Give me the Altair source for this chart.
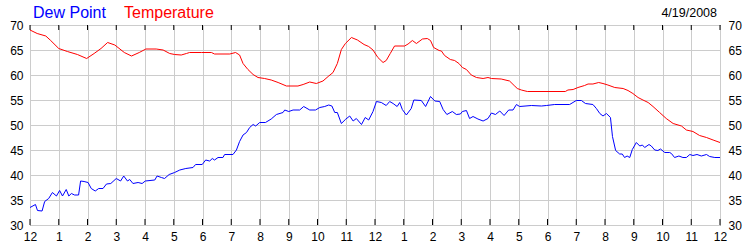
import altair as alt
import pandas as pd

# Temperature (hours since midnight, degrees F)
temp_hours = [0, 0.25, 0.55, 0.72, 1.0, 1.3, 1.65, 1.97, 2.23, 2.47, 2.7, 2.95, 3.28, 3.53, 3.8,
              4.03, 4.39, 4.63, 4.86, 5.03, 5.26, 5.44, 5.55, 5.96, 6.31, 6.42, 6.95, 7.15, 7.29,
              7.41, 7.58, 7.76, 7.93, 8.16, 8.39, 8.63, 8.92, 9.32, 9.50, 9.73, 9.96, 10.19, 10.37,
              10.54, 10.69, 10.83, 10.97, 11.18, 11.39, 11.62, 11.78, 11.93, 12.10, 12.28, 12.39,
              12.53, 12.68, 13.03, 13.15, 13.30, 13.44, 13.65, 13.82, 13.93, 14.04, 14.23, 14.31,
              14.42, 14.62, 14.77, 14.92, 15.04, 15.18, 15.35, 15.53, 15.76, 15.93, 16.05, 16.39,
              16.68, 16.84, 16.95, 17.09, 17.30, 18.62, 18.71, 18.89, 19.06, 19.29, 19.41, 19.58,
              19.78, 19.93, 20.10, 20.34, 20.63, 20.80, 20.97, 21.15, 21.32, 21.50, 21.67, 21.90,
              22.13, 22.37, 22.66, 22.83, 23.06, 23.29, 23.53, 23.76, 24.0]
temp_values = [69.0, 68.3, 67.8, 66.9, 65.3, 64.7, 64.1, 63.3, 64.3, 65.3, 66.5, 66.0, 64.5, 63.8, 64.5,
               65.2, 65.2, 65.0, 64.3, 64.1, 64.0, 64.3, 64.5, 64.5, 64.5, 64.2, 64.2, 64.5, 64.0,
               62.3, 61.1, 60.1, 59.5, 59.3, 59.0, 58.5, 57.8, 57.8, 58.1, 58.6, 58.3, 58.8, 59.7,
               60.5, 62.3, 65.1, 66.3, 67.5, 67.0, 66.1, 65.7, 65.0, 63.5, 62.5, 62.9,
               64.3, 65.8, 65.8, 66.2, 66.9, 66.3, 67.2, 67.3, 66.9, 65.5, 64.9, 64.8,
               63.9, 63.1, 62.9, 62.3, 61.5, 61.1, 60.0, 59.5, 59.3, 59.5, 59.3, 59.2,
               58.8, 57.9, 57.3, 57.0, 56.7, 56.7, 57.0, 57.1, 57.5, 57.9, 58.2, 58.2,
               58.5, 58.3, 58.0, 57.5, 57.3, 56.9, 56.3, 55.5, 55.0, 54.5, 53.7, 52.5,
               51.3, 50.3, 49.8, 49.0, 48.7, 47.9, 47.5, 47.0, 46.5]

# Dew point
dew_hours = [0, 0.19, 0.26, 0.42, 0.51, 0.65, 0.78, 0.92, 1.03, 1.13, 1.26, 1.35, 1.44, 1.55, 1.69,
             1.76, 1.88, 2.02, 2.13, 2.27, 2.39, 2.54, 2.66, 2.81, 3.00, 3.15, 3.26, 3.39, 3.47,
             3.58, 3.76, 3.90, 4.01, 4.34, 4.42, 4.57, 4.68, 4.84, 5.03, 5.21, 5.42, 5.67, 5.76,
             5.99, 6.11, 6.25, 6.34, 6.42, 6.54, 6.71, 6.77, 7.06, 7.18, 7.29, 7.41, 7.53, 7.64,
             7.76, 7.85, 7.99, 8.19, 8.39, 8.57, 8.80, 8.86, 9.00, 9.15, 9.38, 9.52, 9.73, 9.93,
             10.08, 10.25, 10.39, 10.50, 10.60, 10.69, 10.83, 10.97, 11.12, 11.24, 11.35, 11.53,
             11.66, 11.78, 11.93, 12.05, 12.22, 12.39, 12.51, 12.63, 12.77, 12.86, 12.95, 13.09,
             13.26, 13.35, 13.61, 13.76, 13.93, 14.08, 14.25, 14.37, 14.50, 14.69, 14.83, 14.97,
             15.04, 15.18, 15.29, 15.41, 15.58, 15.76, 15.93, 16.05, 16.19, 16.34, 16.49, 16.65,
             16.80, 16.92, 17.03, 17.44, 17.79, 17.96, 18.25, 18.77, 19.00, 19.18, 19.32, 19.58,
             19.70, 19.82, 19.93, 20.05, 20.19, 20.26, 20.37, 20.51, 20.60, 20.68, 20.77, 20.86,
             20.95, 21.09, 21.21, 21.30, 21.38, 21.53, 21.61, 21.73, 21.84, 21.93, 22.08, 22.25,
             22.31, 22.42, 22.57, 22.71, 22.83, 22.95, 23.06, 23.20, 23.35, 23.53, 23.64, 23.82, 24.0]
dew_values = [33.5, 34.1, 32.9, 32.8, 34.7, 35.3, 36.5, 35.8, 36.9, 35.8, 37.1, 35.8, 36.3, 36.0, 36.0,
              38.8, 38.7, 38.5, 37.3, 36.8, 37.3, 37.3, 38.2, 38.3, 39.3, 38.8, 39.8, 38.8, 39.1,
              38.3, 38.5, 38.3, 38.8, 39.0, 39.8, 39.5, 39.3, 40.1, 40.5, 41.0, 41.3, 41.5, 42.1,
              42.1, 43.0, 42.8, 43.3, 43.0, 43.5, 43.5, 44.1, 44.1, 45.0, 46.7, 48.0, 48.5, 49.5,
              50.1, 49.8, 50.5, 50.5, 51.2, 52.1, 52.5, 53.0, 52.7, 53.0, 53.0, 53.7, 53.0, 53.0,
              53.5, 53.7, 54.0, 53.8, 52.5, 52.5, 50.3, 51.1, 51.8, 50.8, 51.3, 50.1,
              51.5, 51.0, 52.7, 54.7, 54.5, 53.9, 54.7, 54.3, 53.7, 54.5, 53.1, 52.0,
              53.3, 55.0, 54.9, 53.7, 55.7, 54.8, 54.7, 53.1, 52.1, 52.7, 52.1, 52.2,
              52.7, 52.9, 51.3, 51.7, 51.2, 50.8, 51.3, 52.4, 52.1, 52.8, 51.9, 53.0,
              53.0, 54.1, 53.7, 53.9, 53.8, 53.9, 54.1, 54.1, 54.9, 54.9, 54.3, 54.1,
              53.3, 52.3, 51.8, 52.3, 51.5, 47.7, 44.9, 44.2, 44.2, 43.5, 43.8, 43.5,
              45.1, 46.5, 45.8, 46.0, 45.5, 46.1, 45.8, 45.0, 44.9, 45.2, 44.5, 44.5,
              44.3, 43.5, 43.8, 43.5, 43.5, 44.1, 43.9, 44.1, 43.8, 44.1, 43.7, 43.5, 43.5]

hour_ticks = list(range(0, 25))
y_ticks = [30, 35, 40, 45, 50, 55, 60, 65, 70]
legend_labels = ["Dew Point", "Temperature"]
date_label = "4/19/2008"

temp_df = pd.DataFrame({"hour": temp_hours, "value": temp_values})
dew_df = pd.DataFrame({"hour": dew_hours, "value": dew_values})
ticks_df = pd.DataFrame({"hour": hour_ticks})

FONT = "Liberation Sans"
xscale = alt.Scale(domain=[0, 24], nice=False, zero=False)
yscale = alt.Scale(domain=[30, 70], nice=False, zero=False)
label_expr = "datum.value % 12 == 0 ? '12' : '' + (datum.value % 12)"

x_axis = alt.Axis(values=hour_ticks, labelExpr=label_expr, title=None, grid=True,
                  gridColor="#cccccc", tickSize=0, labelPadding=6, domain=False,
                  labelFlush=False, labelOverlap=False, labelFont=FONT,
                  labelFontSize=12, labelColor="#000000")
X = alt.X("hour:Q", scale=xscale, axis=x_axis)

temp_line = alt.Chart(temp_df).mark_line(color="#ff0000", strokeWidth=1).encode(
    x=X,
    y=alt.Y("value:Q", scale=yscale,
            axis=alt.Axis(values=y_ticks, title=None, grid=True, gridColor="#cccccc",
                          tickSize=0, labelPadding=7, domain=False, labelFont=FONT,
                          labelFontSize=12, labelColor="#000000", labelFlush=False)),
)

dew_line = alt.Chart(dew_df).mark_line(color="#0000ff", strokeWidth=1).encode(
    x=X,
    y=alt.Y("value:Q", scale=yscale,
            axis=alt.Axis(values=y_ticks, title=None, grid=False, orient="right",
                          tickSize=0, labelPadding=8, domain=False, labelFont=FONT,
                          labelFontSize=12, labelColor="#000000", labelFlush=False)),
)

top_ticks = alt.Chart(ticks_df).mark_rule(color="#000000", strokeWidth=1).encode(
    x=X, y=alt.value(0), y2=alt.value(5),
)
bottom_ticks = alt.Chart(ticks_df).mark_rule(color="#000000", strokeWidth=1).encode(
    x=X, y=alt.value(194), y2=alt.value(200),
)

one = alt.Data(values=[{}])
t_dew = alt.Chart(one).mark_text(align="left", baseline="alphabetic", font=FONT,
                                 fontSize=16, color="#0000ff").encode(
    x=alt.value(3), y=alt.value(-7), text=alt.value(legend_labels[0]))
t_temp = alt.Chart(one).mark_text(align="left", baseline="alphabetic", font=FONT,
                                  fontSize=16, color="#ff0000").encode(
    x=alt.value(94), y=alt.value(-7), text=alt.value(legend_labels[1]))
t_date = alt.Chart(one).mark_text(align="right", baseline="alphabetic", font=FONT,
                                  fontSize=12.5, color="#000000").encode(
    x=alt.value(687), y=alt.value(-8), text=alt.value(date_label))

chart = alt.layer(
    temp_line, dew_line, top_ticks, bottom_ticks, t_dew, t_temp, t_date
).resolve_scale(y="shared").resolve_axis(y="independent").properties(
    width=690, height=200,
    autosize=alt.AutoSizeParams(type="none"),
    padding={"left": 30, "top": 25, "right": 30, "bottom": 25},
    background="#ffffff",
).configure_view(stroke="#000000", strokeWidth=1)

chart.save("out.html", embed_options={"renderer": "svg", "actions": False})
